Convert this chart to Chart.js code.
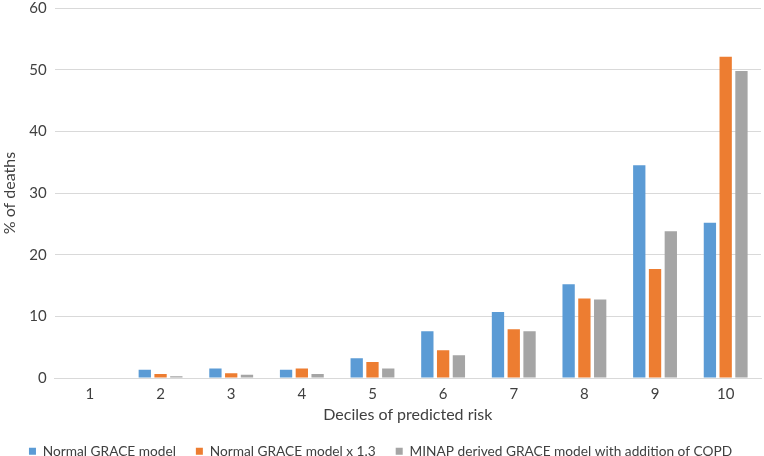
<!DOCTYPE html>
<html><head><meta charset="utf-8">
<script src="https://cdn.jsdelivr.net/npm/chart.js@4"></script>
<style>html,body{margin:0;padding:0;background:#fff;overflow:hidden}#w{width:764px;height:456px;overflow:hidden;position:relative}#c{position:absolute;left:0;top:-9px}</style>
</head><body><div id="w"><canvas id="c" width="764" height="477"></canvas></div>
<script>
const categories = ["1","2","3","4","5","6","7","8","9","10"];
const normalGrace = [0, 1.35, 1.55, 1.35, 3.2, 7.6, 10.7, 15.2, 34.5, 25.2];
const normalGrace13 = [0, 0.65, 0.8, 1.55, 2.6, 4.5, 7.9, 12.9, 17.7, 52.1];
const minapCopd = [0, 0.3, 0.55, 0.65, 1.55, 3.7, 7.6, 12.75, 23.8, 49.8];
const seriesNames = ["Normal GRACE model", "Normal GRACE model x 1.3", "MINAP derived GRACE model with addition of COPD"];
const yTicks = [0, 10, 20, 30, 40, 50, 60];

const font = "Lato, 'Liberation Sans', sans-serif";
new Chart(document.getElementById('c'), {
  type: 'bar',
  data: {
    labels: categories,
    datasets: [
      {label: seriesNames[0], data: normalGrace, backgroundColor: '#5B9BD5'},
      {label: seriesNames[1], data: normalGrace13, backgroundColor: '#ED7D31'},
      {label: seriesNames[2], data: minapCopd, backgroundColor: '#A5A5A5'}
    ]
  },
  options: {
    responsive: false,
    animation: false,
    datasets: {bar: {categoryPercentage: 0.67, barPercentage: 0.78}},
    layout: {padding: {top: 0, right: 3, left: 0, bottom: 0}},
    plugins: {
      legend: {
        position: 'bottom',
        labels: {boxWidth: 7, boxHeight: 7, padding: 20, color: '#404040', font: {family: font, size: 13.7}}
      },
      tooltip: {enabled: false}
    },
    scales: {
      x: {
        grid: {display: false, drawTicks: false},
        border: {color: '#D9D9D9'},
        ticks: {color: '#404040', font: {family: font, size: 15}, padding: 7},
        title: {display: true, text: 'Deciles of predicted risk', color: '#404040', font: {family: font, size: 16}, padding: {top: -5, bottom: 0}}
      },
      y: {
        min: 0, max: 60,
        afterBuildTicks: (s) => { s.ticks = yTicks.map(v => ({value: v})); },
        grid: {color: '#D9D9D9', drawTicks: false},
        border: {display: false},
        ticks: {color: '#404040', font: {family: font, size: 15}, padding: 8},
        title: {display: true, text: '% of deaths', color: '#404040', font: {family: font, size: 16}, padding: {top: 0, bottom: 2}}
      }
    }
  }
});
</script></body></html>
